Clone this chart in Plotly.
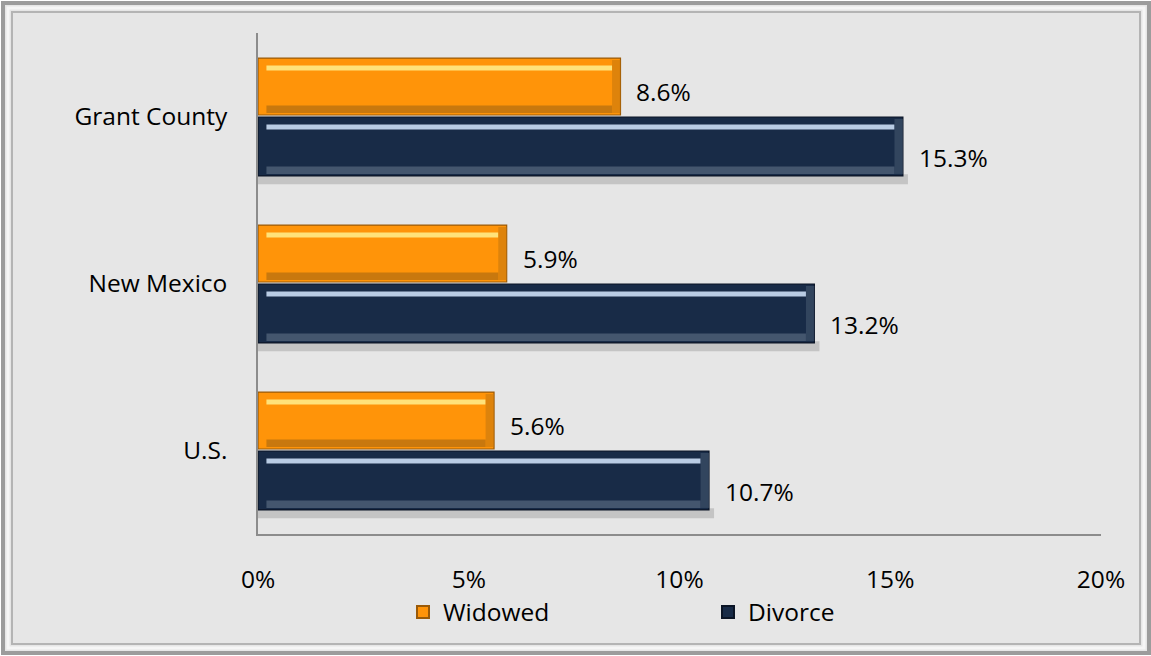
import plotly.graph_objects as go

# ---- data -------------------------------------------------------------
categories = ["U.S.", "New Mexico", "Grant County"]
widowed = [5.6, 5.9, 8.6]
divorce = [10.7, 13.2, 15.3]
x_ticks = [0, 5, 10, 15, 20]
x_tick_labels = ["0%", "5%", "10%", "15%", "20%"]

ypos = list(range(len(categories)))

# ---- styling ----------------------------------------------------------
FONT = "Open Sans"
FS = 24.5
ORANGE = "#FF9409"
NAVY = "#182B47"
BG = "#E6E6E6"

W_OFF, W_WID = 0.009, 0.341      # widowed bar band (above category center)
D_OFF, D_WID = -0.356, 0.353     # divorce bar band (below category center)
INSET = 0.2                      # bevel inset along the value axis (in %)

fig = go.Figure()

# soft drop shadow under the divorce bars
fig.add_trace(go.Bar(
    y=ypos, x=[v + 0.12 for v in divorce], orientation="h",
    offset=D_OFF - 0.05, width=0.06,
    marker=dict(color="rgba(120,120,120,0.3)", line=dict(width=0)),
    showlegend=False, hoverinfo="skip"))

# main bars
fig.add_trace(go.Bar(
    name="Widowed", y=ypos, x=widowed, orientation="h",
    offset=W_OFF, width=W_WID,
    marker=dict(color=ORANGE, line=dict(color="#9A5A08", width=1.2)),
    hoverinfo="skip"))
fig.add_trace(go.Bar(
    name="Divorce", y=ypos, x=divorce, orientation="h",
    offset=D_OFF, width=D_WID,
    marker=dict(color=NAVY, line=dict(color="#0B1526", width=1.2)),
    hoverinfo="skip"))

# bevel: darker lower band and light upper highlight on each bar
def bevel(values, off, wid, dark, light):
    fig.add_trace(go.Bar(
        y=ypos, x=[v - 2 * INSET for v in values], base=[INSET] * len(values),
        orientation="h", offset=off + 0.012, width=0.045,
        marker=dict(color=dark, line=dict(width=0)),
        showlegend=False, hoverinfo="skip"))
    fig.add_trace(go.Bar(
        y=ypos, x=[v - 2 * INSET for v in values], base=[INSET] * len(values),
        orientation="h", offset=off + wid - 0.075, width=0.03,
        marker=dict(color=light, line=dict(width=0)),
        showlegend=False, hoverinfo="skip"))
    # right-hand end of the bevel, slightly darker
    fig.add_trace(go.Bar(
        y=ypos, x=[INSET] * len(values), base=[v - INSET for v in values],
        orientation="h", offset=off + 0.012, width=wid - 0.024,
        marker=dict(color=dark, line=dict(width=0)), opacity=0.6,
        showlegend=False, hoverinfo="skip"))

bevel(widowed, W_OFF, W_WID, "#C8780E", "#FFE27A")
bevel(divorce, D_OFF, D_WID, "#44566E", "#B9CCE4")

# value labels
annotations = []
for yp, w, d in zip(ypos, widowed, divorce):
    annotations.append(dict(
        x=w, y=yp + W_OFF + W_WID / 2, text=f"{w:.1f}%", showarrow=False,
        xanchor="left", yanchor="middle", xshift=14, yshift=-5,
        font=dict(family=FONT, size=FS, color="#000000")))
    annotations.append(dict(
        x=d, y=yp + D_OFF + D_WID / 2, text=f"{d:.1f}%", showarrow=False,
        xanchor="left", yanchor="middle", xshift=14, yshift=-11,
        font=dict(family=FONT, size=FS, color="#000000")))

# chart frame (paper coordinates relative to the plot area)
L, R, T, B = 258, 50, 33, 122
PW, PH = 1151 - L - R, 656 - T - B

def px_x(px):
    return (px - L) / PW

def px_y(py):
    return (656 - B - py) / PH

shapes = [
    dict(type="rect", xref="paper", yref="paper", layer="below",
         x0=px_x(3), x1=px_x(1149), y0=px_y(653), y1=px_y(3),
         fillcolor=BG, line=dict(color="#9C9C9C", width=4)),
    dict(type="rect", xref="paper", yref="paper", layer="below",
         x0=px_x(8), x1=px_x(1144), y0=px_y(648), y1=px_y(8),
         fillcolor="rgba(0,0,0,0)", line=dict(color="#F6F6F6", width=3)),
    dict(type="rect", xref="paper", yref="paper", layer="below",
         x0=px_x(12), x1=px_x(1140), y0=px_y(644), y1=px_y(12),
         fillcolor="rgba(0,0,0,0)", line=dict(color="#B4B4B4", width=2)),
]

fig.update_layout(
    width=1151, height=656,
    margin=dict(l=L, r=R, t=T, b=B),
    paper_bgcolor="#FFFFFF", plot_bgcolor=BG,
    barmode="overlay",
    font=dict(family=FONT, size=FS, color="#000000"),
    shapes=shapes, annotations=annotations,
    xaxis=dict(range=[0, 20], tickvals=x_ticks, ticktext=x_tick_labels,
               showgrid=False, zeroline=False, showline=True,
               linecolor="#8C8C8C", linewidth=1.5, ticks="",
               ticklabelstandoff=23, tickfont=dict(size=FS)),
    yaxis=dict(range=[-0.5, 2.5], tickvals=ypos, ticktext=categories,
               showgrid=False, zeroline=False, showline=True,
               linecolor="#8C8C8C", linewidth=1.5, ticks="",
               ticklabelstandoff=24, tickfont=dict(size=FS)),
    legend=dict(orientation="h", x=px_x(403), xanchor="left",
                y=px_y(612), yanchor="middle", bgcolor="rgba(0,0,0,0)",
                font=dict(size=FS), entrywidth=260, entrywidthmode="pixels",
                itemsizing="constant"),
)

fig.write_html("out.html")
